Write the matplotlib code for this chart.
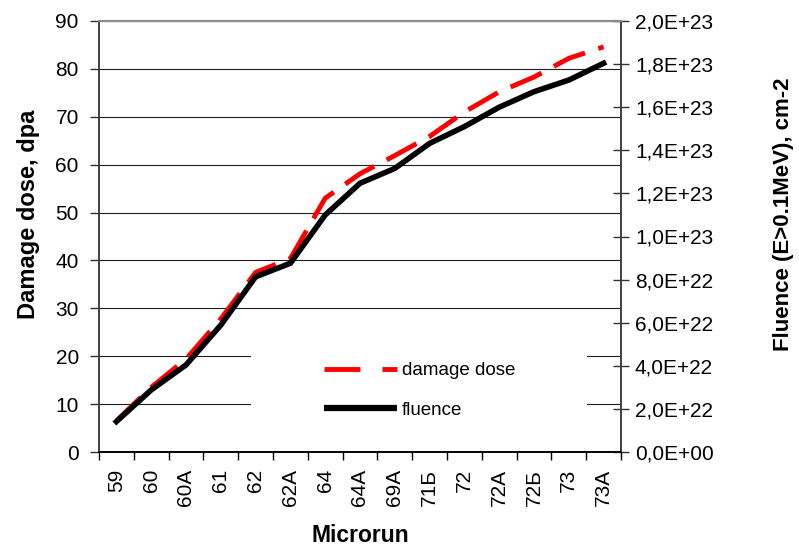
import matplotlib
matplotlib.use("Agg")
import matplotlib.pyplot as plt
from matplotlib.lines import Line2D
from matplotlib.patches import Rectangle
from matplotlib.ticker import FuncFormatter, FixedLocator, NullFormatter

plt.rcParams['font.family'] = ['Liberation Sans', 'DejaVu Sans']

categories = ["59", "60", "60A", "61", "62", "62A", "64", "64A", "69A",
              "71Б", "72", "72A", "72Б", "73", "73A"]
damage_dose = [6.5, 13.5, 19.4, 27.8, 37.5, 40.4, 53.0, 58.1, 61.9,
               65.9, 71.0, 75.2, 78.3, 82.2, 84.6]
fluence = [1.41e22, 2.88e22, 4.04e22, 5.89e22, 8.13e22, 8.76e22, 1.100e23,
           1.247e23, 1.316e23, 1.432e23, 1.510e23, 1.600e23, 1.672e23,
           1.726e23, 1.804e23]
left_ticks = [0, 10, 20, 30, 40, 50, 60, 70, 80, 90]
right_ticks = [0, 2e22, 4e22, 6e22, 8e22, 1e23, 1.2e23, 1.4e23, 1.6e23, 1.8e23, 2e23]

W, H = 799, 548
fig = plt.figure(figsize=(W / 100, H / 100), dpi=100)
L, R, T, B = 99, 621, 21, 452
ax = fig.add_axes([L / W, 1 - B / H, (R - L) / W, (B - T) / H])
ax2 = ax.twinx()

x = list(range(len(categories)))
TICK_FS = 15

# gridlines (left axis)
ax.set_axisbelow(True)
ax.yaxis.grid(True, color='#202020', linewidth=0.8)
ax.set_ylim(0, 90)
ax.set_yticks(left_ticks)
ax.set_xlim(-0.5, len(categories) - 0.5)

# white legend area covering gridlines
ax.add_patch(Rectangle((0.291, 0.028), 0.644, 0.255, transform=ax.transAxes,
                       facecolor='white', edgecolor='none', zorder=1))

ax.plot(x, damage_dose, color='#ff0000', linewidth=3.5, zorder=3,
        dashes=(34 / 4.86, 14 / 4.86), solid_capstyle='butt', dash_capstyle='butt')
ax2.plot(x, fluence, color='black', linewidth=4, zorder=3, solid_joinstyle='miter')
ax2.set_ylim(0, 2e23)
ax2.set_yticks(right_ticks)
ax2.yaxis.set_major_formatter(FuncFormatter(lambda v, p: ('%.1E' % v).replace('.', ',')))

# x ticks at category boundaries, labels at centres
ax.xaxis.set_major_locator(FixedLocator([i - 0.5 for i in range(len(categories) + 1)]))
ax.xaxis.set_major_formatter(NullFormatter())
ax.xaxis.set_minor_locator(FixedLocator(x))
ax.set_xticklabels(categories, minor=True, rotation=90, fontsize=TICK_FS)
ax.tick_params(axis='x', which='major', direction='out', length=6, width=1, color='black')
ax.tick_params(axis='x', which='minor', length=0, pad=12)
ax.tick_params(axis='y', direction='out', length=6.5, width=1, pad=8, labelsize=TICK_FS,
               color='#333333')
ax2.tick_params(axis='y', direction='inout', length=11, width=1, pad=4.5, labelsize=TICK_FS,
                color='#333333')

for a in (ax, ax2):
    for s in a.spines.values():
        s.set_linewidth(1.2)
    a.spines['top'].set_color('#8c8c8c')
    a.spines['top'].set_linewidth(1.5)
    a.spines['left'].set_color('#404040')
    a.spines['right'].set_color('#404040')
    a.spines['bottom'].set_color('black')

# axis labels
fig.text(29 / W, 1 - 214 / H, "Damage dose, dpa", rotation=90, ha='center', va='center',
         fontsize=17, fontweight='bold')
fig.text(783 / W, 1 - 214 / H, "Fluence (E>0.1MeV), cm-2", rotation=90, ha='center',
         va='center', fontsize=16, fontweight='bold')
fig.text(360 / W, 1 - 535 / H, "Microrun", ha='center', va='center',
         fontsize=16.5, fontweight='bold')

# legend
h1 = Line2D([], [], color='#ff0000', linewidth=3.5, dashes=(36 / 4.86, 22 / 4.86),
            dash_capstyle='butt')
h2 = Line2D([], [], color='black', linewidth=4.5, solid_capstyle='butt')
fig.legend([h1, h2], ["damage dose", "fluence"], loc='upper left',
           bbox_to_anchor=(324 / W, 1 - 362 / H), frameon=False, fontsize=13.5,
           handlelength=3.9, handletextpad=0.25, labelspacing=1.2,
           borderpad=0, borderaxespad=0)

fig.savefig("out.png", dpi=100)
